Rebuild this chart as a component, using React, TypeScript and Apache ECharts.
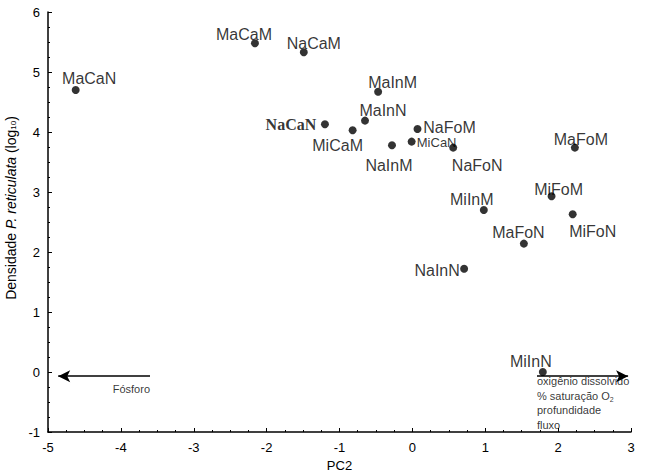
import React, { useEffect, useRef } from "react";
import * as echarts from "echarts";

// Sample names, PC2 scores and density (log10)
const sampleNames = [
  "MaCaN", "MaCaM", "NaCaM", "NaCaN", "MaInM", "MaInN", "MiCaM", "NaInM", "MiCaN",
  "NaFoM", "NaFoN", "MaFoM", "MiFoM", "MiFoN", "MiInM", "MaFoN", "NaInN", "MiInN",
];
const pc2Values = [
  -4.62, -2.16, -1.49, -1.2, -0.47, -0.65, -0.82, -0.28, -0.01,
  0.07, 0.56, 2.23, 1.91, 2.2, 0.98, 1.53, 0.71, 1.79,
];
const densityValues = [
  4.7, 5.48, 5.33, 4.13, 4.67, 4.19, 4.03, 3.78, 3.84,
  4.05, 3.74, 3.74, 2.93, 2.63, 2.7, 2.14, 1.72, 0.0,
];

// Vector (arrow) annotations
const vectorNames = ["Fósforo", "oxigênio dissolvido"];
const vectorFrom = [[-3.6, -0.07], [1.71, -0.07]];
const vectorTo = [[-4.86, -0.07], [2.96, -0.07]];

// Variable text annotations
const varTexts = [
  "Fósforo",
  "oxigênio dissolvido\n% saturação O{s|2}\nprofundidade\nfluxo",
];
const varAnchors = [[-3.6, -0.28], [1.71, -0.035]];
const varAlign = ["right", "left"];
const varVAlign = ["middle", "top"];

const xTicks = { min: -5, max: 3, interval: 1 };
const yTicks = { min: -1, max: 6, interval: 1 };

// label styling per point (offsets in px relative to the dot)
const labelOffsets: Record<string, [number, number]> = {
  MaCaN: [13.5, -11.5],
  MaCaM: [-11, -9],
  NaCaM: [10, -9],
  NaCaN: [-34, 0],
  MaInM: [14.5, -9],
  MaInN: [18, -10],
  MiCaM: [-15, 15],
  NaInM: [-3, 20],
  MiCaN: [25, 1],
  NaFoM: [32, -2],
  NaFoN: [24, 18],
  MaFoM: [6, -8],
  MiFoM: [7, -7],
  MiFoN: [20, 17],
  MiInM: [-12, -11],
  MaFoN: [-5.5, -11],
  NaInN: [-27, 2],
  MiInN: [-12, -11],
};

const SANS = "'Liberation Sans', Arial, sans-serif";

export default function App() {
  const ref = useRef<HTMLDivElement>(null);
  useEffect(() => {
    document.body.style.margin = "0";
    if (!ref.current) return;
    const chart = echarts.init(ref.current, null, { renderer: "svg" });

    const pointData = sampleNames.map((n, i) => {
      const lbl: any = {
        show: true,
        position: "inside",
        offset: labelOffsets[n] || [0, -12],
        formatter: "{b}",
        color: "#000",
        fontSize: 16,
        fontFamily: SANS,
      };
      if (n === "NaCaN") {
        lbl.fontFamily = "'Liberation Serif', 'Times New Roman', serif";
        lbl.fontWeight = "bold";
      }
      if (n === "MiCaN") {
        lbl.fontSize = 13;
      }
      return { name: n, value: [pc2Values[i], densityValues[i]], label: lbl };
    });

    const annData = varTexts.map((t, i) => ({
      name: t,
      value: varAnchors[i],
      label: {
        show: true,
        position: [0, 0],
        align: varAlign[i],
        verticalAlign: varVAlign[i],
        formatter: t,
        color: "#000",
        fontSize: 11,
        lineHeight: 14.5,
        fontFamily: SANS,
        rich: {
          s: { fontSize: 7, verticalAlign: "bottom", lineHeight: 14.5, fontFamily: SANS, color: "#000" },
        },
      },
    }));

    const option: any = {
      animation: false,
      backgroundColor: "#fff",
      grid: { left: 48, right: 15, top: 12, bottom: 41, containLabel: false, outerBoundsMode: "none" },
      xAxis: {
        type: "value",
        min: xTicks.min,
        max: xTicks.max,
        interval: xTicks.interval,
        name: "PC2",
        nameLocation: "middle",
        nameGap: 24,
        nameTextStyle: { color: "#000", fontSize: 13, fontFamily: SANS },
        axisLine: { onZero: false, lineStyle: { color: "#000", width: 1.5 } },
        axisTick: { inside: true, length: 4, lineStyle: { color: "#000" } },
        minorTick: { show: true, splitNumber: 4, length: 2, lineStyle: { color: "#000" } },
        axisLabel: { color: "#000", fontSize: 13, fontFamily: SANS, margin: 9 },
        splitLine: { show: false },
      },
      yAxis: {
        type: "value",
        min: yTicks.min,
        max: yTicks.max,
        interval: yTicks.interval,
        name: "{n|Densidade }{i|P. reticulata}{n| (log}{s|10}{n|)}",
        nameLocation: "middle",
        nameGap: 21,
        nameRotate: 90,
        nameTextStyle: {
          color: "#000",
          fontSize: 14,
          fontFamily: SANS,
          padding: [0, 0, 0, 28],
          rich: {
            n: { fontSize: 14, fontFamily: SANS, color: "#000" },
            i: { fontSize: 14, fontFamily: SANS, fontStyle: "italic", color: "#000" },
            s: { fontSize: 8, fontFamily: SANS, color: "#000", verticalAlign: "bottom" },
          },
        },
        axisLine: { onZero: false, lineStyle: { color: "#000", width: 1.5 } },
        axisTick: { inside: true, length: 4, lineStyle: { color: "#000" } },
        minorTick: { show: true, splitNumber: 4, length: 2, lineStyle: { color: "#000" } },
        axisLabel: { color: "#000", fontSize: 13, fontFamily: SANS, margin: 8 },
        splitLine: { show: false },
      },
      series: [
        {
          type: "scatter",
          symbol: "circle",
          symbolSize: 8,
          itemStyle: { color: "#000" },
          data: pointData,
          markLine: {
            silent: true,
            symbol: ["none", "arrow"],
            symbolSize: [9, 12],
            label: { show: false },
            lineStyle: { color: "#000", width: 1.5, type: "solid" },
            data: vectorNames.map((n, i) => [
              { name: n, coord: vectorFrom[i] },
              { coord: vectorTo[i] },
            ]),
          },
        },
        {
          type: "scatter",
          symbolSize: 0,
          silent: true,
          itemStyle: { color: "transparent" },
          data: annData,
        },
      ],
    };
    chart.setOption(option);
    return () => chart.dispose();
  }, []);
  return <div ref={ref} style={{ width: 646, height: 473 }} />;
}
